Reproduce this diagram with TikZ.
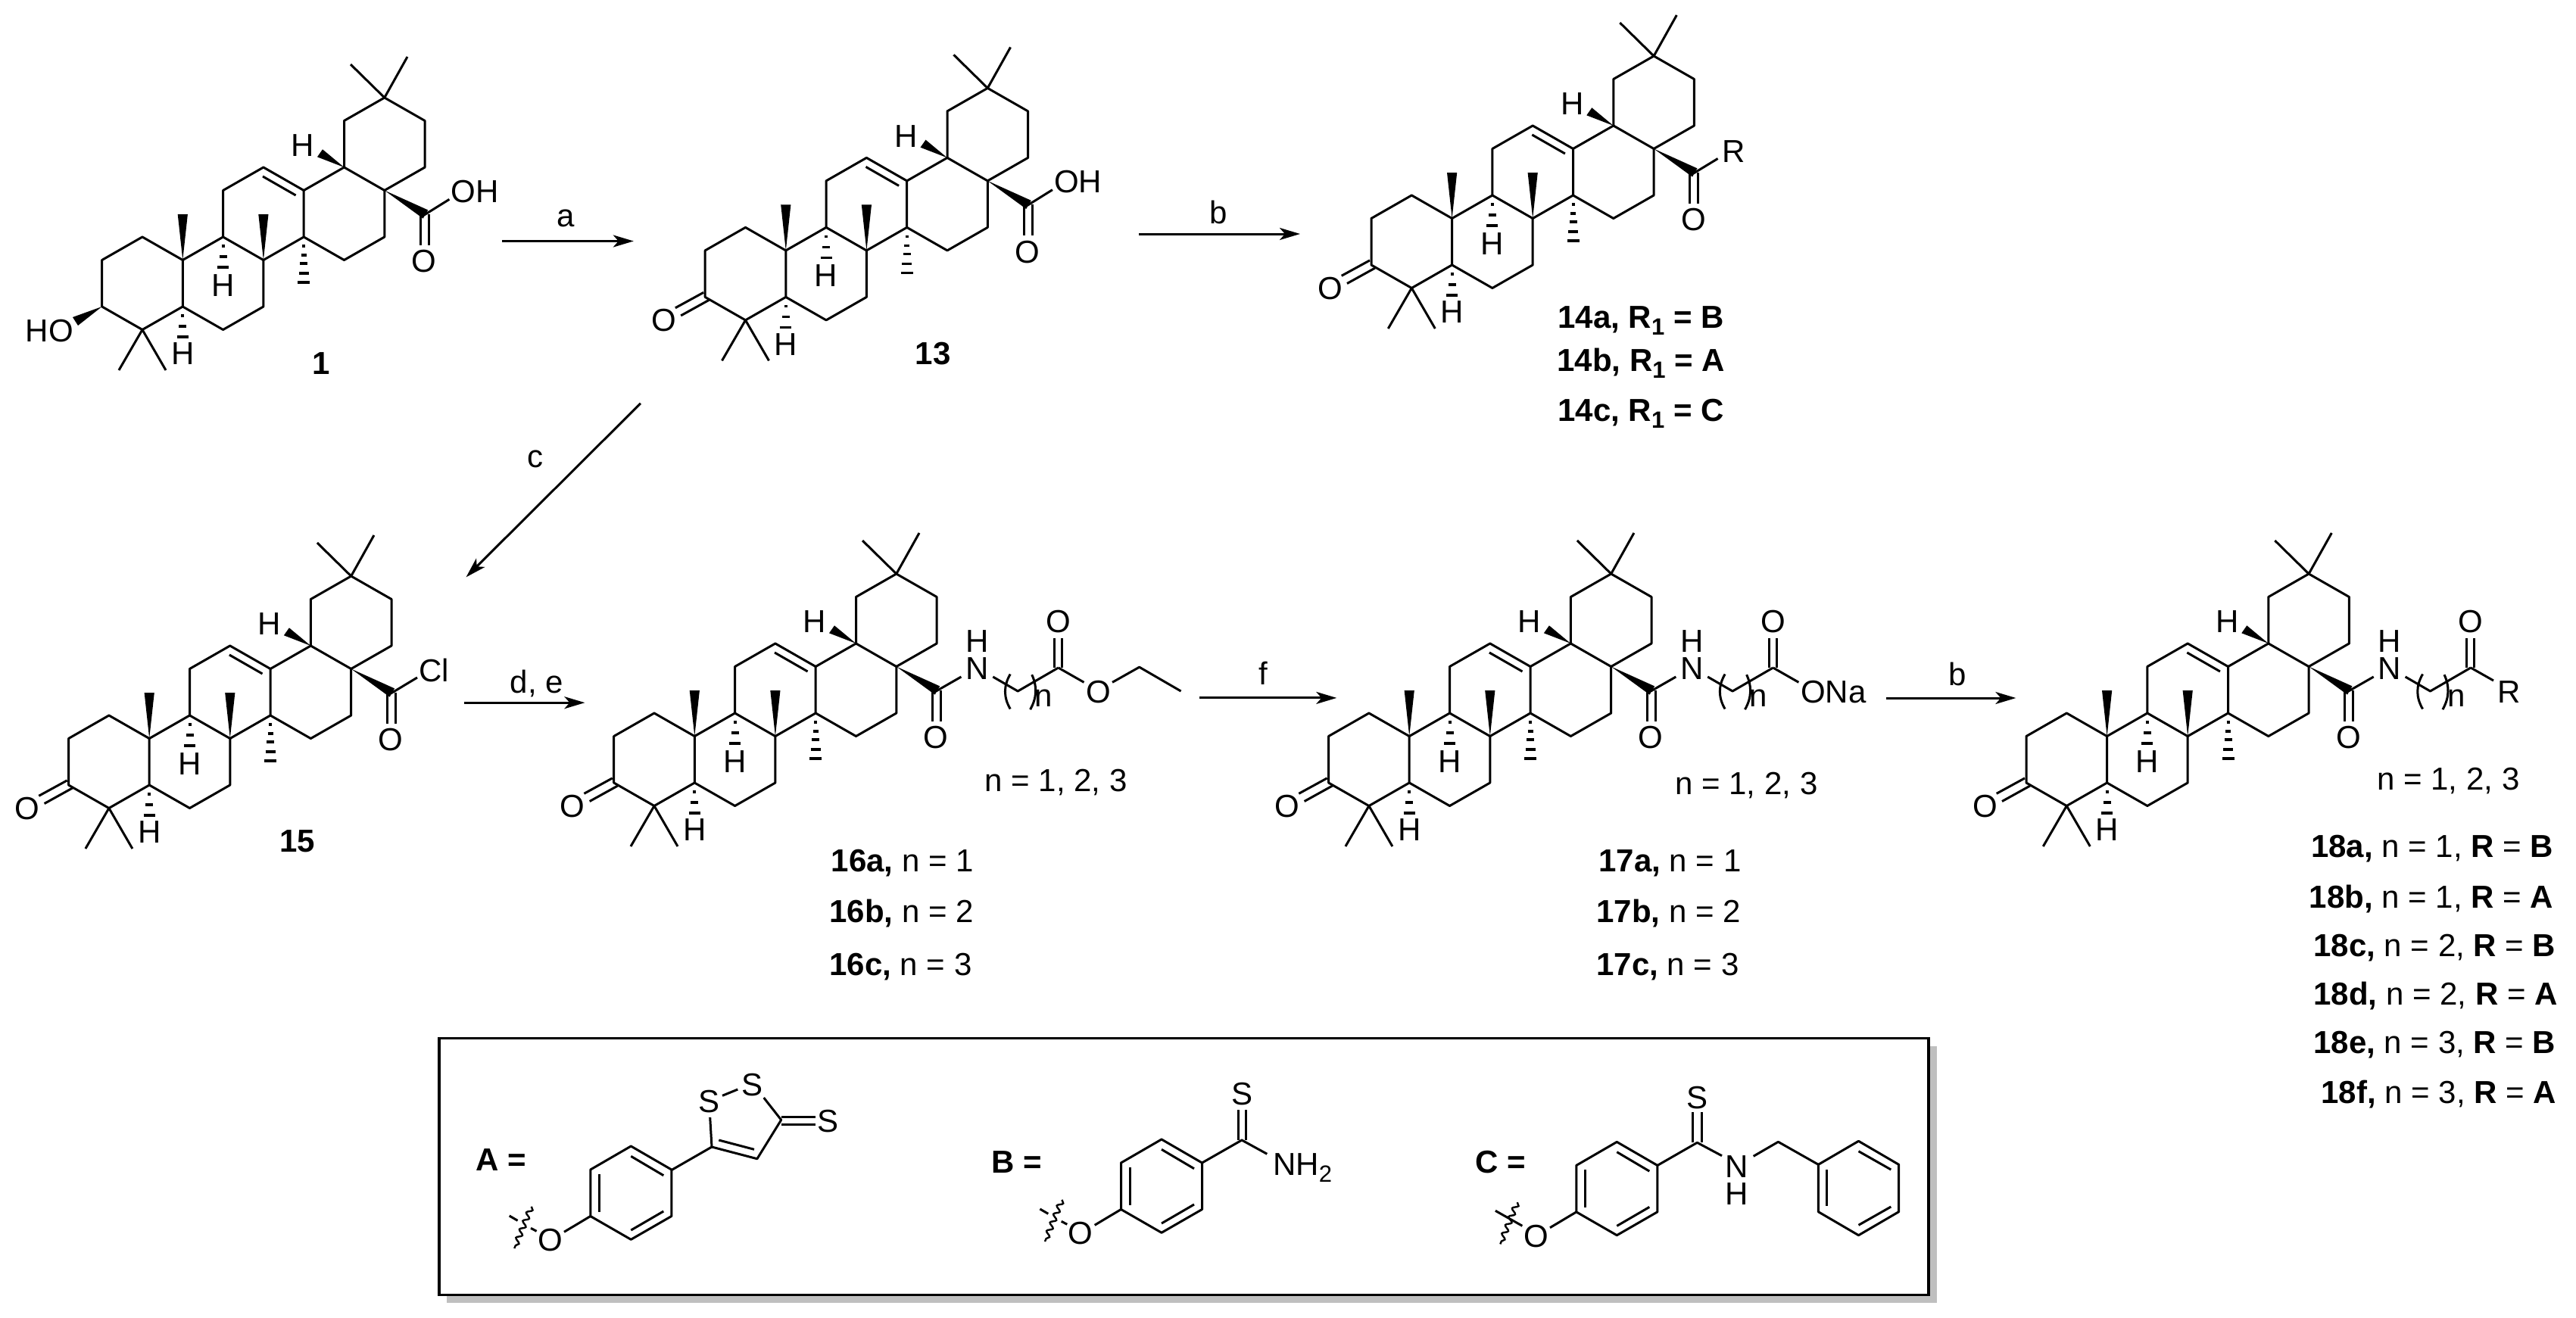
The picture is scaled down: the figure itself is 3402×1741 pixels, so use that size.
\documentclass[tikz,border=0pt]{standalone}
\usepackage{fontspec}
\setmainfont{Liberation Sans}
\usetikzlibrary{arrows.meta,decorations.pathmorphing}
\newcommand{\sbs}[1]{\raisebox{-4.7pt}{\fontsize{15.5}{15.5}\selectfont #1}}
\tikzset{
  bond/.style={line width=1.5pt,line join=round,line cap=butt,black},
  hashbar/.style={line width=1.6pt,black},
  rxn/.style={line width=1.5pt,-{Stealth[length=13.5pt,width=8pt,inset=3.5pt]}},
  atomlab/.style={inner sep=0pt,font=\fontsize{21}{21}\selectfont},
  cmpdlab/.style={inner sep=0pt,anchor=base west,font=\fontsize{21}{21}\selectfont},
  reaglab/.style={inner sep=0pt,anchor=base,font=\fontsize{21}{21}\selectfont},
  wavy/.style={line width=1.2pt,decorate,decoration={snake,segment length=6pt,amplitude=1.7pt}}
}
% triterpene skeleton, origin at C3; #1 = name prefix
\newcommand{\skel}[1]{%
  \draw[bond] (0,0)--(0,-61.5)--(53.3,-92)--(106.6,-61.5)--(106.6,0)--(53.3,30.5)--cycle;
  \draw[bond] (106.6,0)--(159.9,30.5)--(213.2,0)--(213.2,-61.5)--(159.9,-92)--(106.6,-61.5);
  \draw[bond] (159.9,-92)--(159.9,-153.5)--(213.2,-184)--(266.5,-153.5)--(266.5,-92)--(213.2,-61.5);
  \draw[bond] (266.5,-92)--(319.8,-61.5)--(373.1,-92)--(373.1,-153.5)--(319.8,-184)--(266.5,-153.5);
  \draw[bond] (319.8,-184)--(319.8,-245.5)--(373.1,-276)--(426.4,-245.5)--(426.4,-184)--(373.1,-153.5);
  \draw[bond] (212.3,-172)--(255.9,-147);
  \draw[bond] (328.3,-320)--(373.1,-276)--(403.3,-330);
  \draw[bond] (22.3,84)--(53.3,30.5)--(84.3,84);
  % wedges
  \fill (106.6,-61.5)--(100,-122)--(113.2,-122)--cycle;
  \fill (213.2,-61.5)--(206.6,-122)--(219.8,-122)--cycle;
  \fill (319.8,-184)--(291.3,-207.7)--(284.3,-197.7)--cycle;
  \fill (373.1,-153.5)--(424,-116.4)--(430.5,-127.6)--cycle;
  % hashes
  \foreach \dd/\hw in {12/2,24/3.5,35/5,48/6.5,60/8}
    \draw[hashbar] ({266.5-\hw},{-92+\dd})--({266.5+\hw},{-92+\dd});
  \foreach \dd/\hw in {12/2,26/5,40/7.5}{
    \draw[hashbar] ({159.9-\hw},{-92+\dd})--({159.9+\hw},{-92+\dd});
    \draw[hashbar] ({106.6-\hw},{\dd})--({106.6+\hw},{\dd});
  }
  \node[atomlab] (#1H9) at (159.9,-28) {H};
  \node[atomlab] (#1H5) at (106.6,62.5) {H};
  \node[atomlab] (#1H18) at (265.3,-212.5) {H};
  % C28 carbonyl
  \draw[bond] (420.8,-122)--(420.8,-81);
  \draw[bond] (431.8,-122)--(431.8,-81);
  \node[atomlab] (#1O28) at (425.5,-59.5) {O};
}
\newcommand{\ketone}[1]{%
  \draw[bond] (-39.3,14.3)--(-2,-6.1);
  \draw[bond] (-32,24.5)--(5,4);
  \node[atomlab] (#1O3) at (-54.6,30.7) {O};
}
\newcommand{\amchain}[1]{%
  \draw[bond] (425.5,-121)--(458.7,-140);
  \node[atomlab] (#1N) at (479.8,-151) {N};
  \node[atomlab] (#1NH) at (479.8,-187) {H};
  \draw[bond] (500.6,-140)--(533.5,-121)--(587,-152);
  \draw[bond] (523.5,-143.5) .. controls (514.5,-128) and (514.5,-113) .. (523.5,-97.5);
  \draw[bond] (552,-142.8) .. controls (559,-128) and (559,-113) .. (549.9,-96.8);
  \node[inner sep=0pt,anchor=base,font=\fontsize{21}{21}\selectfont] (#1n) at (567.7,-101) {n};
  \draw[bond] (581.8,-152)--(581.8,-191.5);
  \draw[bond] (591.9,-152)--(591.9,-191.5);
  \node[atomlab] (#1Oc) at (586.9,-212.5) {O};
}
% p-oxyphenyl, origin at lowest ring atom
\newcommand{\phO}[1]{%
  \draw[bond] (0,0)--(53.5,-30.8)--(53.5,-92.3)--(0,-123.3)--(-53.5,-92.3)--(-53.5,-30.8)--cycle;
  \draw[bond] (0,-110)--(43,-84.6);
  \draw[bond] (-41.6,-86.6)--(-41.6,-36.6);
  \draw[bond] (0,-12.3)--(43,-37.3);
  \draw[bond] (-53.5,-30.8)--(-88.3,-10);
  \node[atomlab] (#1O) at (-106.8,1) {O};
  \draw[wavy] (-131.5,-43.5)--(-154,11.7);
}
\begin{document}
\begin{tikzpicture}[x=0.5pt,y=-0.5pt]
\useasboundingbox (0,0) rectangle (3402,1741);
\fill[white] (0,0) rectangle (3402,1741);

% ---- compound 1
\begin{scope}[shift={(134.7,405)}]
  \skel{a}
  \fill (0,0)--(-38.7,14)--(-31.7,25)--cycle;
  \node[atomlab] (aHO) at (-69.5,32) {HO};
  \draw[bond] (425.5,-121)--(458.7,-141.7);
  \node[atomlab] (aOH) at (492.4,-152) {OH};
\end{scope}
\node[reaglab,font=\fontsize{21}{21}\selectfont\bfseries] (lab1) at (424,494) {1};

% ---- compound 13
\begin{scope}[shift={(931.2,392.4)}]
  \skel{b}\ketone{b}
  \draw[bond] (425.5,-121)--(458.7,-141.7);
  \node[atomlab] (bOH) at (492.4,-152) {OH};
\end{scope}
\node[reaglab,font=\fontsize{21}{21}\selectfont\bfseries] (lab13) at (1232,481) {13};

% ---- compound 14
\begin{scope}[shift={(1811,350)}]
  \skel{c}\ketone{c}
  \draw[bond] (425.5,-121)--(457.6,-140.5);
  \node[atomlab] (cR) at (478.7,-150.4) {R};
\end{scope}
\node[cmpdlab] (l14a) at (2057,433) {\textbf{14a, R\sbs{1} = B}};
\node[cmpdlab] (l14b) at (2056,490) {\textbf{14b, R\sbs{1} = A}};
\node[cmpdlab] (l14c) at (2057,556.5) {\textbf{14c, R\sbs{1} = C}};

% ---- compound 15
\begin{scope}[shift={(90.6,1037)}]
  \skel{d}\ketone{d}
  \draw[bond] (425.5,-121)--(460.4,-142);
  \node[atomlab] (dCl) at (482.9,-151.3) {Cl};
\end{scope}
\node[cmpdlab] (l15) at (369,1125.7) {\textbf{15}};

% ---- compound 16
\begin{scope}[shift={(810.7,1034)}]
  \skel{e}\ketone{e}\amchain{e}
  \draw[bond] (587,-152)--(620.8,-132.7);
  \node[atomlab] (eOe) at (639.9,-120.3) {O};
  \draw[bond] (658.3,-132.7)--(694,-152.8)--(748.9,-121);
\end{scope}
\node[cmpdlab] (n16) at (1300.3,1045) {n = 1, 2, 3};
\node[cmpdlab] (l16a) at (1097.4,1151.8) {\textbf{16a,} n = 1};
\node[cmpdlab] (l16b) at (1095,1218.4) {\textbf{16b,} n = 2};
\node[cmpdlab] (l16c) at (1095,1288.6) {\textbf{16c,} n = 3};

% ---- compound 17
\begin{scope}[shift={(1754.6,1034)}]
  \skel{f}\ketone{f}\amchain{f}
  \draw[bond] (587,-152)--(620.8,-132.7);
  \node[cmpdlab] (fONa) at (623,-105.5) {ONa};
\end{scope}
\node[cmpdlab] (n17) at (2212,1049) {n = 1, 2, 3};
\node[cmpdlab] (l17a) at (2111,1151.8) {\textbf{17a,} n = 1};
\node[cmpdlab] (l17b) at (2108,1218.8) {\textbf{17b,} n = 2};
\node[cmpdlab] (l17c) at (2108,1288.4) {\textbf{17c,} n = 3};

% ---- compound 18
\begin{scope}[shift={(2676,1034)}]
  \skel{g}\ketone{g}\amchain{g}
  \draw[bond] (587,-152)--(617,-135);
  \node[atomlab] (gR) at (638,-120) {R};
\end{scope}
\node[cmpdlab] (n18) at (3139,1043) {n = 1, 2, 3};
\node[cmpdlab] (l18a) at (3051.8,1132.6) {\textbf{18a,} n = 1, \textbf{R} = \textbf{B}};
\node[cmpdlab] (l18b) at (3049.4,1199) {\textbf{18b,} n = 1, \textbf{R} = \textbf{A}};
\node[cmpdlab] (l18c) at (3055,1263.8) {\textbf{18c,} n = 2, \textbf{R} = \textbf{B}};
\node[cmpdlab] (l18d) at (3055,1327.6) {\textbf{18d,} n = 2, \textbf{R} = \textbf{A}};
\node[cmpdlab] (l18e) at (3055,1391.3) {\textbf{18e,} n = 3, \textbf{R} = \textbf{B}};
\node[cmpdlab] (l18f) at (3065,1457.6) {\textbf{18f,} n = 3, \textbf{R} = \textbf{A}};

% ---- reaction arrows
\coordinate (ra1) at (663.4,318.5); \coordinate (ra2) at (836.8,318.5);
\coordinate (rb1) at (1504,309);    \coordinate (rb2) at (1717,309);
\coordinate (rc1) at (846,532.8);   \coordinate (rc2) at (615.5,762.4);
\coordinate (rd1) at (612.8,928.2); \coordinate (rd2) at (772.4,928.2);
\coordinate (rf1) at (1584,921.9);  \coordinate (rf2) at (1765.3,921.9);
\coordinate (rg1) at (2490.6,922);  \coordinate (rg2) at (2662.4,922);
\draw[rxn] (ra1)--(ra2);
\draw[rxn] (rb1)--(rb2);
\draw[rxn] (rc1)--(rc2);
\draw[rxn] (rd1)--(rd2);
\draw[rxn] (rf1)--(rf2);
\draw[rxn] (rg1)--(rg2);
\node[reaglab] (ta) at (747.5,299.6) {a};
\node[reaglab] (tb) at (1609,295.7) {b};
\node[reaglab] (tc) at (706.7,617) {c};
\node[reaglab] (td) at (708.7,915) {d, e};
\node[reaglab] (tf) at (1668,904.5) {f};
\node[reaglab] (tg) at (2584.7,905.6) {b};

% ---- legend box
\fill[black!25] (590,1381.7) rectangle (2557.8,1720.7);
\draw[line width=1.7pt,fill=white] (580,1371.7) rectangle (2547,1710.7);

\node[cmpdlab] (lA) at (628.3,1546.7) {\textbf{A =}};
\begin{scope}[shift={(833.3,1637.3)}]
  \phO{hA}
  \draw[bond] (-160.6,-31.3)--(-149.7,-25);
  \draw[bond] (-132.3,-15)--(-124.7,-11);
\end{scope}
\draw[bond] (886.8,1545.6)--(940,1515)--(937.7,1476);
\node[atomlab] (S1) at (936.7,1455) {S};
\draw[bond] (954,1447.3)--(974.3,1439);
\node[atomlab] (S2) at (993.3,1433.3) {S};
\draw[bond] (1008.7,1450)--(1031.7,1479.3)--(999.9,1530.7)--(940,1515);
\draw[bond] (949.3,1506)--(996,1518.3);
\draw[bond] (1031.7,1475)--(1076.7,1475);
\draw[bond] (1031.7,1485)--(1076.7,1485);
\node[atomlab] (S3) at (1093,1480.7) {S};

\node[cmpdlab] (lB) at (1309.3,1549.3) {\textbf{B =}};
\begin{scope}[shift={(1534,1628.3)}]
  \phO{hB}
  \draw[bond] (-160.6,-31.3)--(-149.7,-25);
  \draw[bond] (-132.3,-15)--(-124.7,-11);
\end{scope}
\draw[bond] (1587.5,1536)--(1640,1506)--(1673.3,1524.3);
\draw[bond] (1635,1506)--(1635,1466);
\draw[bond] (1645.7,1506)--(1645.7,1466);
\node[atomlab] (S4) at (1640,1445) {S};
\node[cmpdlab] (NHtwo) at (1680.7,1552.3) {NH\sbs{2}};

\node[cmpdlab] (lC) at (1948.4,1549.3) {\textbf{C =}};
\begin{scope}[shift={(2135.3,1631.7)}]
  \phO{hC}
  \draw[bond] (-160.4,-32.4)--(-124.9,-12.4);
\end{scope}
\draw[bond] (2188.8,1539.5)--(2241.4,1509.3)--(2274,1526.7);
\draw[bond] (2235.3,1509.3)--(2235.3,1469.3);
\draw[bond] (2247.6,1509.3)--(2247.6,1469.3);
\node[atomlab] (S5) at (2241.4,1450) {S};
\node[atomlab] (NC) at (2293.3,1540.7) {N};
\node[atomlab] (HC) at (2293.3,1576.7) {H};
\draw[bond] (2315.7,1527.3)--(2348.4,1508.3)--(2401.4,1538.3);
\draw[bond] (2401.4,1538.3)--(2454.5,1507.3)--(2507.6,1538.3)--(2507.6,1600.7)--(2454.5,1631.7)--(2401.4,1600.7)--cycle;
\draw[bond] (2454.5,1520.7)--(2497.3,1545);
\draw[bond] (2412.4,1545)--(2412.4,1593.3);
\draw[bond] (2454.5,1618.3)--(2497.3,1594);
\end{tikzpicture}
\end{document}
